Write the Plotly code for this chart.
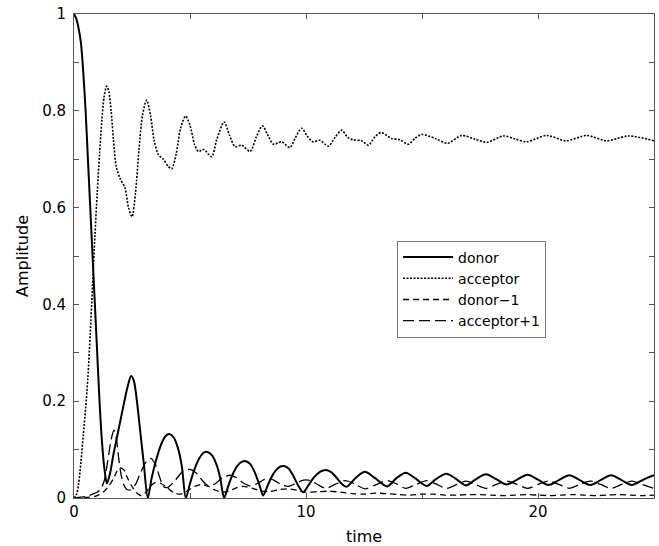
import plotly.graph_objects as go

# (time, amplitude) samples for each population
donor_pts = [
    (0, 1.0), (0.1, 0.99), (0.2, 0.97), (0.3, 0.94), (0.4, 0.88), (0.5, 0.80),
    (0.6, 0.70), (0.7, 0.60), (0.8, 0.50), (0.9, 0.40), (1.0, 0.30), (1.1, 0.20),
    (1.2, 0.12), (1.3, 0.065), (1.42, 0.03), (1.55, 0.05), (1.7, 0.09), (1.85, 0.125),
    (2.0, 0.16), (2.15, 0.195), (2.3, 0.228), (2.46, 0.252), (2.58, 0.242), (2.7, 0.205),
    (2.85, 0.14), (3.0, 0.075), (3.18, 0.0), (3.35, 0.042), (3.55, 0.08), (3.75, 0.11),
    (3.95, 0.128), (4.1, 0.132), (4.3, 0.125), (4.5, 0.1), (4.65, 0.065), (4.82, 0.0),
    (5.0, 0.03), (5.2, 0.06), (5.4, 0.082), (5.6, 0.094), (5.75, 0.095), (5.95, 0.088),
    (6.15, 0.068), (6.3, 0.042), (6.47, 0.0), (6.65, 0.025), (6.85, 0.05), (7.05, 0.067),
    (7.25, 0.075), (7.4, 0.076), (7.6, 0.07), (7.8, 0.052), (8.0, 0.026), (8.15, 0.005),
    (8.3, 0.02), (8.5, 0.042), (8.7, 0.057), (8.9, 0.065), (9.05, 0.066), (9.25, 0.061),
    (9.45, 0.046), (9.65, 0.027), (9.88, 0.012), (10.1, 0.026), (10.35, 0.043), (10.6, 0.054),
    (10.85, 0.058), (11.1, 0.053), (11.35, 0.04), (11.55, 0.029), (11.75, 0.023),
    (12.15, 0.042), (12.54, 0.054), (12.95, 0.042), (13.5, 0.024), (13.9, 0.041),
    (14.3, 0.052), (14.7, 0.041), (15.2, 0.025), (15.6, 0.039), (16.05, 0.05),
    (16.45, 0.04), (16.9, 0.026), (17.3, 0.038), (17.75, 0.049), (18.2, 0.039),
    (18.65, 0.028), (19.1, 0.038), (19.55, 0.048), (20.0, 0.038), (20.45, 0.027),
    (20.9, 0.037), (21.35, 0.047), (21.8, 0.037), (22.25, 0.027), (22.7, 0.037),
    (23.15, 0.047), (23.6, 0.037), (24.05, 0.027), (24.5, 0.037), (25.0, 0.047),
]

acceptor_pts = [
    (0, 0.0), (0.1, 0.006), (0.2, 0.03), (0.3, 0.075), (0.4, 0.13), (0.5, 0.185),
    (0.6, 0.25), (0.7, 0.34), (0.8, 0.44), (0.9, 0.54), (1.0, 0.63), (1.1, 0.71),
    (1.2, 0.78), (1.3, 0.83), (1.41, 0.851), (1.5, 0.84), (1.6, 0.80), (1.7, 0.74),
    (1.82, 0.685), (1.98, 0.661), (2.2, 0.64), (2.35, 0.60), (2.5, 0.581), (2.65, 0.63),
    (2.8, 0.72), (2.95, 0.79), (3.13, 0.822), (3.3, 0.79), (3.45, 0.74), (3.64, 0.709),
    (3.85, 0.70), (4.05, 0.686), (4.21, 0.68), (4.4, 0.71), (4.6, 0.765), (4.81, 0.789),
    (5.0, 0.77), (5.2, 0.73), (5.36, 0.716), (5.6, 0.72), (5.93, 0.705), (6.15, 0.74),
    (6.47, 0.777), (6.7, 0.75), (6.94, 0.726), (7.23, 0.729), (7.59, 0.716), (7.85, 0.745),
    (8.12, 0.769), (8.35, 0.75), (8.6, 0.731), (8.95, 0.736), (9.3, 0.724), (9.55, 0.745),
    (9.81, 0.764), (10.05, 0.748), (10.3, 0.736), (10.6, 0.739), (10.96, 0.727),
    (11.25, 0.745), (11.54, 0.760), (11.8, 0.745), (12.04, 0.740), (12.4, 0.738),
    (12.69, 0.729), (12.95, 0.745), (13.23, 0.755), (13.69, 0.743), (14.05, 0.740),
    (14.41, 0.731), (14.7, 0.743), (14.99, 0.751), (15.56, 0.743), (16.1, 0.733),
    (16.71, 0.749), (17.25, 0.742), (17.79, 0.735), (18.5, 0.748), (19.0, 0.742),
    (19.51, 0.736), (20.37, 0.749), (21.2, 0.738), (22.1, 0.749), (22.96, 0.738),
    (23.9, 0.748), (25.0, 0.738),
]

donor_m1_pts = [
    (0, 0.0), (0.5, 0.001), (1.0, 0.005), (1.3, 0.014), (1.5, 0.025), (1.7, 0.04),
    (1.85, 0.055), (2.0, 0.062), (2.15, 0.058), (2.3, 0.042), (2.5, 0.024), (2.7, 0.011),
    (2.9, 0.005), (3.1, 0.012), (3.3, 0.025), (3.5, 0.032), (3.75, 0.03), (4.0, 0.022),
    (4.3, 0.011), (4.6, 0.008), (4.9, 0.015), (5.2, 0.024), (5.5, 0.028), (5.8, 0.024),
    (6.1, 0.016), (6.4, 0.012), (6.7, 0.015), (7.0, 0.021), (7.3, 0.024), (7.7, 0.02),
    (8.0, 0.015), (8.4, 0.013), (8.8, 0.017), (9.2, 0.019), (9.6, 0.016), (10.0, 0.012),
    (10.5, 0.013), (11.0, 0.014), (11.5, 0.012), (12.0, 0.009), (12.5, 0.008), (13.0, 0.01),
    (13.5, 0.009), (14.0, 0.007), (14.5, 0.006), (15.0, 0.008), (15.5, 0.008), (16.0, 0.006),
    (16.5, 0.006), (17.0, 0.007), (17.5, 0.007), (18.0, 0.006), (18.5, 0.005), (19.0, 0.006),
    (19.5, 0.007), (20.0, 0.006), (20.5, 0.005), (21.0, 0.006), (21.5, 0.007), (22.0, 0.006),
    (22.5, 0.005), (23.0, 0.006), (23.5, 0.007), (24.0, 0.006), (24.5, 0.005), (25.0, 0.006),
]

acceptor_p1_pts = [
    (0, 0.0), (0.3, 0.002), (0.6, 0.004), (0.8, 0.008), (1.0, 0.012), (1.15, 0.018),
    (1.3, 0.035), (1.45, 0.075), (1.6, 0.12), (1.72, 0.14), (1.82, 0.125), (1.92, 0.085),
    (2.03, 0.048), (2.15, 0.027), (2.3, 0.017), (2.45, 0.017), (2.65, 0.028), (2.85, 0.05),
    (3.1, 0.074), (3.32, 0.082), (3.5, 0.07), (3.7, 0.042), (3.85, 0.024), (4.05, 0.022),
    (4.35, 0.036), (4.7, 0.055), (5.0, 0.059), (5.3, 0.05), (5.55, 0.035), (5.8, 0.025),
    (6.1, 0.03), (6.4, 0.042), (6.72, 0.047), (7.0, 0.042), (7.3, 0.031), (7.6, 0.025),
    (7.9, 0.03), (8.15, 0.037), (8.4, 0.04), (8.65, 0.036), (8.95, 0.027), (9.25, 0.024),
    (9.55, 0.03), (9.9, 0.037), (10.2, 0.036), (10.5, 0.028), (10.85, 0.02), (11.25, 0.028),
    (11.7, 0.036), (12.1, 0.029), (12.54, 0.019), (13.0, 0.027), (13.5, 0.036), (13.9, 0.029),
    (14.3, 0.02), (14.75, 0.028), (15.2, 0.036), (15.6, 0.029), (16.05, 0.02), (16.5, 0.028),
    (16.9, 0.035), (17.3, 0.028), (17.75, 0.02), (18.2, 0.028), (18.65, 0.035), (19.1, 0.028),
    (19.55, 0.02), (20.0, 0.028), (20.45, 0.035), (20.9, 0.028), (21.35, 0.02), (21.8, 0.028),
    (22.25, 0.035), (22.7, 0.028), (23.15, 0.02), (23.6, 0.028), (24.05, 0.035), (24.5, 0.028),
    (25.0, 0.02),
]

series_names = ["donor", "acceptor", "donor\u22121", "acceptor+1"]
x_ticks = [0, 10, 20]
y_ticks = [0, 0.2, 0.4, 0.6, 0.8, 1]
y_tick_text = ["0", "0.2", "0.4", "0.6", "0.8", "1"]

FONT = "DejaVu Sans, Liberation Sans, Arial, sans-serif"
AXIS_COLOR = "#555555"

styles = [
    dict(width=2.0, dash="solid"),
    dict(width=1.6, dash="2px,1.5px"),
    dict(width=1.3, dash="6px,4px"),
    dict(width=1.3, dash="11px,5px"),
]

fig = go.Figure()
for name, pts, st in zip(series_names,
                         [donor_pts, acceptor_pts, donor_m1_pts, acceptor_p1_pts],
                         styles):
    fig.add_trace(go.Scatter(
        x=[p[0] for p in pts],
        y=[p[1] for p in pts],
        mode="lines",
        name=name,
        line=dict(color="black", width=st["width"], dash=st["dash"],
                  shape="spline", smoothing=0.8),
    ))

axis_common = dict(
    showline=True, linecolor=AXIS_COLOR, linewidth=1, mirror="ticks",
    ticks="inside", ticklen=5, tickcolor=AXIS_COLOR, tickwidth=1,
    showgrid=False, zeroline=False,
    tickfont=dict(family=FONT, size=15, color="black"),
)

fig.update_layout(
    width=659, height=546,
    margin=dict(l=74, r=5, t=14, b=48),
    paper_bgcolor="white", plot_bgcolor="white",
    font=dict(family=FONT, color="black"),
    showlegend=True,
    legend=dict(
        x=0.557, y=0.532, xanchor="left", yanchor="top",
        bgcolor="white", bordercolor="#777777", borderwidth=1,
        font=dict(family=FONT, size=14, color="black"),
        tracegroupgap=0, itemwidth=50,
    ),
    xaxis=dict(
        range=[0, 25], tickvals=x_ticks, ticktext=[str(v) for v in x_ticks],
        minor=dict(dtick=5, tick0=0, ticks="inside", ticklen=5, tickcolor=AXIS_COLOR),
        title=dict(text="time", font=dict(family=FONT, size=16), standoff=10),
        **axis_common,
    ),
    yaxis=dict(
        range=[0, 1], tickvals=y_ticks, ticktext=y_tick_text,
        minor=dict(dtick=0.1, tick0=0, ticks="inside", ticklen=5, tickcolor=AXIS_COLOR),
        title=dict(text="Amplitude", font=dict(family=FONT, size=16), standoff=9),
        ticklabelstandoff=4,
        **axis_common,
    ),
)

fig.write_html("out.html")
